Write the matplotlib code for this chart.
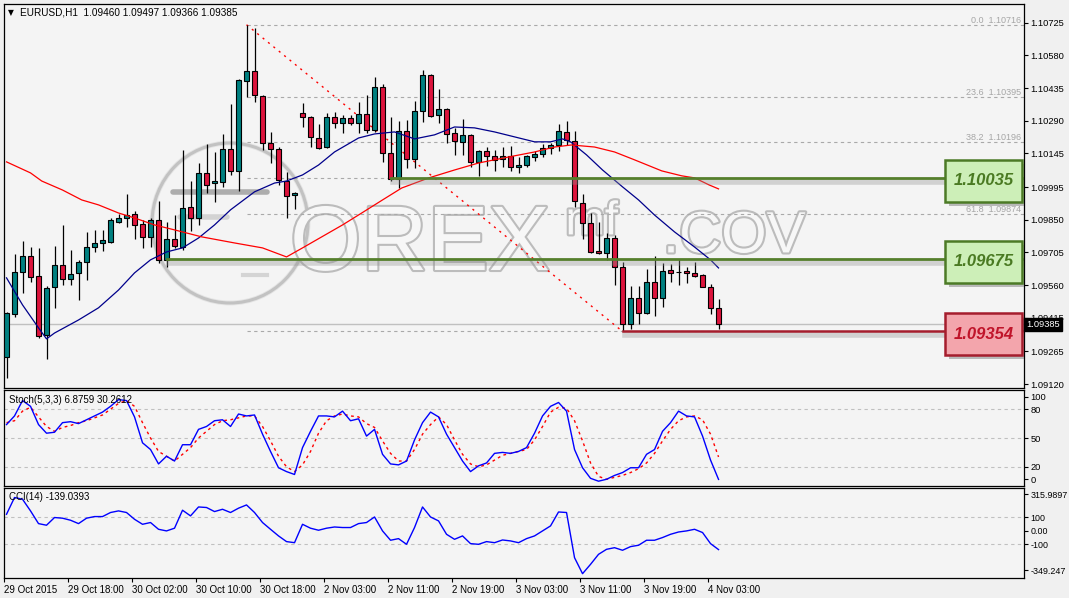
import numpy as np
import matplotlib.pyplot as plt
import matplotlib.patheffects as pe
from matplotlib.patches import Rectangle, Ellipse
from matplotlib.transforms import blended_transform_factory

plt.rcParams['font.family'] = ['Liberation Sans', 'DejaVu Sans']

# ---- EURUSD H1 candles ----
opens = [1.09241, 1.09432, 1.09618, 1.09689, 1.09601, 1.09339, 1.09552, 1.09649, 1.09587, 1.09614,
         1.09663, 1.09729, 1.09747, 1.09751, 1.09840, 1.09858, 1.09876, 1.09831, 1.09774, 1.09849,
         1.09672, 1.09765, 1.09729, 1.09907, 1.09858, 1.10058, 1.10013, 1.10018, 1.10164, 1.10067,
         1.10466, 1.10511, 1.10400, 1.10191, 1.10164, 1.10022, 1.09960, 1.10324, 1.10307, 1.10213,
         1.10173, 1.10307, 1.10280, 1.10302, 1.10280, 1.10320, 1.10249, 1.10440, 1.10147, 1.10031,
         1.10244, 1.10120, 1.10333, 1.10493, 1.10315, 1.10342, 1.10235, 1.10196, 1.10227, 1.10107,
         1.10156, 1.10133, 1.10120, 1.10133, 1.10085, 1.10093, 1.10129, 1.10142, 1.10169, 1.10182,
         1.10240, 1.10200, 1.09925, 1.09836, 1.09712, 1.09703, 1.09769, 1.09640, 1.09387, 1.09503,
         1.09436, 1.09574, 1.09503, 1.09627, 1.09618, 1.09623, 1.09614, 1.09605, 1.09552, 1.09460]
highs = [1.09441, 1.09698, 1.09756, 1.09729, 1.09725, 1.09556, 1.09734, 1.09827, 1.09716, 1.09672,
         1.09796, 1.09805, 1.09805, 1.09858, 1.09876, 1.09965, 1.09889, 1.09849, 1.09858, 1.09934,
         1.09840, 1.09871, 1.10160, 1.10022, 1.10102, 1.10187, 1.10151, 1.10231, 1.10364, 1.10475,
         1.10716, 1.10702, 1.10404, 1.10240, 1.10173, 1.10062, 1.09975, 1.10369, 1.10311, 1.10275,
         1.10324, 1.10329, 1.10315, 1.10315, 1.10373, 1.10404, 1.10484, 1.10453, 1.10307, 1.10289,
         1.10293, 1.10378, 1.10515, 1.10497, 1.10431, 1.10346, 1.10258, 1.10298, 1.10231, 1.10160,
         1.10173, 1.10160, 1.10173, 1.10178, 1.10129, 1.10138, 1.10156, 1.10187, 1.10191, 1.10275,
         1.10289, 1.10244, 1.09965, 1.09880, 1.09840, 1.09791, 1.09782, 1.09663, 1.09556, 1.09556,
         1.09632, 1.09689, 1.09658, 1.09654, 1.09676, 1.09640, 1.09663, 1.09607, 1.09565, 1.09497]
lows = [1.09148, 1.09418, 1.09525, 1.09574, 1.09325, 1.09232, 1.09459, 1.09561, 1.09561, 1.09494,
        1.09583, 1.09707, 1.09712, 1.09747, 1.09836, 1.09818, 1.09765, 1.09725, 1.09729, 1.09658,
        1.09640, 1.09725, 1.09716, 1.09800, 1.09827, 1.09969, 1.09929, 1.09996, 1.10049, 1.09978,
        1.10395, 1.10373, 1.10160, 1.10102, 1.10005, 1.09858, 1.09898, 1.10262, 1.10173, 1.10164,
        1.10169, 1.10258, 1.10235, 1.10271, 1.10235, 1.10235, 1.10240, 1.10107, 1.10022, 1.09991,
        1.10080, 1.10080, 1.10284, 1.10307, 1.10280, 1.10191, 1.10138, 1.10138, 1.10085, 1.10045,
        1.10089, 1.10067, 1.10085, 1.10067, 1.10058, 1.10085, 1.10111, 1.10129, 1.10142, 1.10156,
        1.10182, 1.09907, 1.09765, 1.09703, 1.09698, 1.09672, 1.09561, 1.09354, 1.09365, 1.09387,
        1.09432, 1.09423, 1.09463, 1.09574, 1.09561, 1.09569, 1.09596, 1.09550, 1.09432, 1.09366]
closes = [1.09436, 1.09618, 1.09689, 1.09596, 1.09334, 1.09547, 1.09649, 1.09587, 1.09609, 1.09663,
          1.09729, 1.09747, 1.09760, 1.09849, 1.09858, 1.09871, 1.09827, 1.09774, 1.09849, 1.09672,
          1.09765, 1.09734, 1.09902, 1.09858, 1.10058, 1.10005, 1.10022, 1.10164, 1.10067, 1.10471,
          1.10511, 1.10404, 1.10191, 1.10164, 1.10027, 1.09956, 1.09969, 1.10307, 1.10218, 1.10169,
          1.10307, 1.10280, 1.10302, 1.10280, 1.10320, 1.10249, 1.10440, 1.10147, 1.10031, 1.10244,
          1.10120, 1.10333, 1.10493, 1.10311, 1.10342, 1.10231, 1.10200, 1.10227, 1.10107, 1.10156,
          1.10133, 1.10116, 1.10133, 1.10085, 1.10093, 1.10133, 1.10142, 1.10169, 1.10182, 1.10244,
          1.10204, 1.09934, 1.09836, 1.09707, 1.09703, 1.09769, 1.09640, 1.09387, 1.09503, 1.09436,
          1.09574, 1.09503, 1.09623, 1.09614, 1.09616, 1.09614, 1.09601, 1.09552, 1.09459, 1.09385]

# moving averages, read at a few bar positions
fast_ma_x = [0, 2, 4, 5, 6, 9, 11.5, 14, 16, 18, 20, 22, 24, 26, 28, 31, 33.5, 35, 37, 39, 41, 44,
             46, 48.5, 51, 53.5, 56, 58.5, 61, 63.5, 66, 68, 69.5, 70.5, 72.5, 74.5, 77, 79, 81,
             83.5, 86, 88, 89]
fast_ma = [1.09592, 1.09472, 1.09370, 1.09321, 1.09347, 1.09405, 1.09459, 1.09538, 1.09614, 1.09672,
           1.09707, 1.09725, 1.09769, 1.09827, 1.09894, 1.09974, 1.10013, 1.10022, 1.10049, 1.10093,
           1.10151, 1.10213, 1.10231, 1.10240, 1.10209, 1.10227, 1.10262, 1.10258, 1.10240, 1.10218,
           1.10196, 1.10196, 1.10209, 1.10196, 1.10138, 1.10071, 1.09996, 1.09938, 1.09871, 1.09796,
           1.09729, 1.09672, 1.09636]
slow_ma_x = [0, 3, 4.4, 7, 9.4, 11.5, 14, 16, 18.5, 21, 24.4, 28.5, 32, 35, 37, 39.4, 42, 44.4, 47,
             49.4, 52.8, 56, 59, 62.8, 66, 68.5, 70.6, 73.5, 76, 78.5, 81.9, 84.4, 86, 87.8, 89]
slow_ma = [1.10107, 1.10058, 1.10022, 1.09982, 1.09938, 1.09916, 1.09880, 1.09858, 1.09827, 1.09805,
           1.09774, 1.09747, 1.09725, 1.09685, 1.09725, 1.09774, 1.09827, 1.09880, 1.09938, 1.09991,
           1.10036, 1.10071, 1.10102, 1.10129, 1.10151, 1.10173, 1.10182, 1.10173, 1.10151, 1.10116,
           1.10067, 1.10045, 1.10036, 1.10005, 1.09987]

stoch_k = [64, 73, 89, 83, 64, 55, 56, 66, 67, 65, 69, 73, 77, 83, 90, 89, 72, 45, 38, 23,
           31, 26, 43, 43, 59, 62, 68, 69, 62, 75, 73, 74, 54, 36, 19, 15, 12, 40, 57, 73,
           73, 72, 78, 68, 70, 52, 59, 33, 23, 22, 26, 48, 66, 77, 72, 54, 40, 26, 15, 21,
           24, 34, 35, 34, 36, 40, 55, 73, 83, 87, 78, 38, 19, 8, 5, 7, 11, 14, 19, 19,
           33, 38, 57, 66, 78, 73, 72, 52, 27, 6.8759]
stoch_d = [66, 68, 78, 82, 72, 62, 57, 61, 63, 66, 68, 71, 74, 80, 86, 89, 83, 66, 50, 36,
           31, 26, 33, 40, 50, 57, 64, 68, 69, 71, 73, 73, 62, 47, 31, 20, 15, 22, 36, 55,
           68, 73, 75, 73, 72, 65, 61, 47, 34, 26, 26, 38, 54, 64, 72, 64, 48, 33, 23, 20,
           22, 27, 32, 34, 36, 38, 48, 62, 77, 82, 81, 68, 47, 24, 10, 7, 9, 11, 14, 18,
           24, 34, 47, 59, 68, 72, 73, 69, 54, 30.2612]
cci = [122, 246, 233, 147, 53, 41, 98, 93, 78, 53, 93, 105, 105, 135, 147, 135, 85, 48, 61, 11,
       -1, 19, 152, 110, 176, 172, 142, 159, 135, 167, 191, 135, 61, 11, -38, -80, -88, 48, 19, 4,
       19, 28, 24, 24, 53, 61, 102, -1, -70, -58, -100, 24, 176, 102, 73, -26, -63, -38, -95, -100,
       -80, -88, -68, -75, -88, -58, -38, -1, 36, 139, 135, -199, -317, -248, -174, -137, -125, -144,
       -117, -107, -70, -70, -50, -26, -9, -1, 11, -13, -95, -139.0393]

time_labels = ['29 Oct 2015', '29 Oct 18:00', '30 Oct 02:00', '30 Oct 10:00', '30 Oct 18:00',
               '2 Nov 03:00', '2 Nov 11:00', '2 Nov 19:00', '3 Nov 03:00', '3 Nov 11:00',
               '3 Nov 19:00', '4 Nov 03:00']
price_ticks = [1.10725, 1.10580, 1.10435, 1.10290, 1.10145, 1.09995, 1.09850, 1.09705,
               1.09560, 1.09415, 1.09265, 1.09120]

fib_high, fib_low = 1.10716, 1.09354
fib_start, fib_end = 30, 77
fib_pcts = [0.0, 23.6, 38.2, 50.0, 61.8, 76.4, 100.0]
fib_labelled = [0.0, 23.6, 38.2, 61.8]   # the others sit under the level boxes
green_levels = [1.10035, 1.09675]
green_starts = [48, 20]
red_level = 1.09354
red_start = 77
last_price = 1.09385

BG = '#f4f4f4'
TEAL = '#008080'
CRIMSON = '#dc143c'

o = np.array(opens); h = np.array(highs); l = np.array(lows); c = np.array(closes)
x = np.arange(len(o))
xlim = (-0.32, -0.32 + 1020 / 8)

fig = plt.figure(figsize=(10.69, 5.98), dpi=100, facecolor='#f0f0f0')
ax = fig.add_axes([0.0037, 0.3512, 0.9542, 0.6421], facecolor=BG)
ax_st = fig.add_axes([0.0037, 0.1873, 0.9542, 0.1605], facecolor=BG)
ax_cci = fig.add_axes([0.0037, 0.0334, 0.9542, 0.1505], facecolor=BG)

for a in (ax, ax_st, ax_cci):
    a.set_xlim(*xlim)
    a.yaxis.tick_right()
    a.tick_params(axis='y', length=3, width=0.8, labelsize=6.7, pad=1.5)
    for s in a.spines.values():
        s.set_linewidth(0.9)
        s.set_color('black')

# ---- watermark ----
wm = ax.transAxes
ax.add_patch(Ellipse((0.2216, 0.4297), 0.1529, 0.4167, transform=wm, fill=False,
                     ec='#c2c2c2', lw=2.2, zorder=1,
                     path_effects=[pe.withStroke(linewidth=3.5, foreground='#e4e4e4')]))
ax.plot([0.1657, 0.2578], [0.5104, 0.5104], transform=wm, color='#969696', lw=4, alpha=0.75,
        solid_capstyle='round', zorder=1)
ax.plot([0.1725, 0.2186], [0.4453, 0.4453], transform=wm, color='#cbcbcb', lw=4, alpha=0.8,
        solid_capstyle='round', zorder=1)
ax.plot([0.2343, 0.2578], [0.294, 0.294], transform=wm, color='#d4d4d4', lw=3, zorder=1)
wm_fx = [pe.withStroke(linewidth=3, foreground='#bcbcbc')]
ax.text(0.2804, 0.3073, 'OREX', transform=wm, fontsize=66, color='#f7f7f7', va='baseline',
        ha='left', zorder=1, path_effects=wm_fx)
ax.text(0.5505, 0.40, 'mf', transform=wm, fontsize=34, color='#f7f7f7', va='baseline',
        ha='left', zorder=1, path_effects=wm_fx)
ax.text(0.646, 0.353, '.COV', transform=wm, fontsize=42, color='#f7f7f7', va='baseline',
        ha='left', zorder=1, path_effects=wm_fx)

# ---- fibonacci ----
bt = blended_transform_factory(ax.transAxes, ax.transData)
fib_prices = [fib_high - p / 100 * (fib_high - fib_low) for p in fib_pcts]
ax.hlines(fib_prices, fib_start, xlim[1], colors='#a9a9a9', linestyles=(0, (3, 3)), lw=0.8, zorder=2)
for p, v in zip(fib_pcts, fib_prices):
    if p in fib_labelled:
        ax.text(0.997, v, f'{p:.1f}  {v:.5f}', transform=bt, ha='right', va='bottom',
                fontsize=6.5, color='#a6a6a6', zorder=2)
ax.plot([fib_start, fib_end], [fib_high, fib_low], color='red', ls=(0, (1.5, 3.5)), lw=1, zorder=2)

ax.axhline(last_price, color='#c0c0c0', lw=1, zorder=1)

# ---- candles ----
up = c >= o
ax.vlines(x, l, h, color='black', lw=0.9, zorder=4)
ax.bar(x, np.maximum(np.abs(c - o), 0.000012), bottom=np.minimum(o, c), width=0.6,
       color=np.where(up, TEAL, CRIMSON), edgecolor='black', linewidth=0.8, zorder=5)

ax.plot(fast_ma_x, fast_ma, color='#00008b', lw=0.9, zorder=6)
ax.plot(slow_ma_x, slow_ma, color='red', lw=0.9, zorder=6)

# ---- support / resistance ----
shadow = [pe.SimpleLineShadow(offset=(1.5, -2.5), shadow_color='#909090', alpha=0.35, linewidth=4),
          pe.Normal()]
for lev, st in zip(green_levels, green_starts):
    ax.plot([st, xlim[1]], [lev, lev], color='#557f2c', lw=2, zorder=7, path_effects=shadow)
ax.plot([red_start, xlim[1]], [red_level, red_level], color='#a51d2d', lw=1.8, zorder=7,
        path_effects=shadow)

box_h = 0.00186
box_fx = [pe.SimplePatchShadow(offset=(3, -3), shadow_rgbFace='#707070', alpha=0.45), pe.Normal()]
for lev, face, edge, txt in [(green_levels[0], '#cdefb8', '#4c7a26', '#4a7a22'),
                             (green_levels[1], '#cdefb8', '#4c7a26', '#4a7a22'),
                             (red_level, '#f3a5ac', '#a51d2d', '#c0142a')]:
    yc = lev - 0.00012
    ax.add_patch(Rectangle((0.9225, yc - box_h / 2), 0.0755, box_h, transform=bt, facecolor=face,
                           edgecolor=edge, lw=1.8, zorder=8, path_effects=box_fx))
    ax.text(0.9603, yc, f'{lev:.5f}', transform=bt, ha='center', va='center', fontsize=12,
            fontweight='bold', fontstyle='italic', color=txt, zorder=9)

ax.set_ylim(1.09103, 1.10808)
ax.set_yticks(price_ticks, labels=[f'{v:.5f}' for v in price_ticks])
ax.set_xticks([])
ax.text(1.002, last_price, f'{last_price:.5f}', transform=bt, ha='left', va='center', fontsize=6.7,
        color='white', zorder=10, clip_on=False,
        bbox=dict(boxstyle='square,pad=0.2', facecolor='black', edgecolor='black'))

ax.text(0.004, 0.979, '\u25bc', transform=ax.transAxes, fontsize=5.5, va='center', ha='left',
        family='DejaVu Sans')
ax.text(0.0157, 0.979, 'EURUSD,H1  1.09460 1.09497 1.09366 1.09385', transform=ax.transAxes,
        fontsize=7.2, va='center', ha='left')

# ---- stochastic ----
ax_st.set_ylim(0, 100)
for lev in (80, 50, 20):
    ax_st.axhline(lev, color='#c0c0c0', ls=(0, (3, 3)), lw=0.8)
ax_st.plot(x, stoch_d, color='red', ls=(0, (2, 2.5)), lw=1)
ax_st.plot(x, stoch_k, color='blue', lw=1)
ax_st.set_yticks([93, 80, 50, 20, 7], labels=['100', '80', '50', '20', '0'])
ax_st.set_xticks([])
ax_st.text(0.005, 0.9, 'Stoch(5,3,3) 6.8759 30.2612', transform=ax_st.transAxes, fontsize=7,
           va='center', ha='left')

# ---- CCI ----
ax_cci.set_ylim(-349.247, 315.9897)
ax_cci.axhline(100, color='#c0c0c0', ls=(0, (3, 3)), lw=0.8)
ax_cci.axhline(-100, color='#c0c0c0', ls=(0, (3, 3)), lw=0.8)
ax_cci.plot(x, cci, color='blue', lw=1)
ax_cci.set_yticks([270, 100, 0, -100, -293],
                  labels=['315.9897', '100', '0.00', '-100', '-349.247'])
ax_cci.tick_params(axis='y', labelsize=6.4)
ax_cci.text(0.005, 0.9, 'CCI(14) -139.0393', transform=ax_cci.transAxes, fontsize=7,
            va='center', ha='left')
ax_cci.set_xticks(np.arange(0, len(x), 8) - 0.3, labels=time_labels)
ax_cci.tick_params(axis='x', length=3, width=0.8, labelsize=7, pad=2)
for lab in ax_cci.get_xticklabels():
    lab.set_horizontalalignment('left')

fig.savefig('out.png', dpi=100, facecolor=fig.get_facecolor())
